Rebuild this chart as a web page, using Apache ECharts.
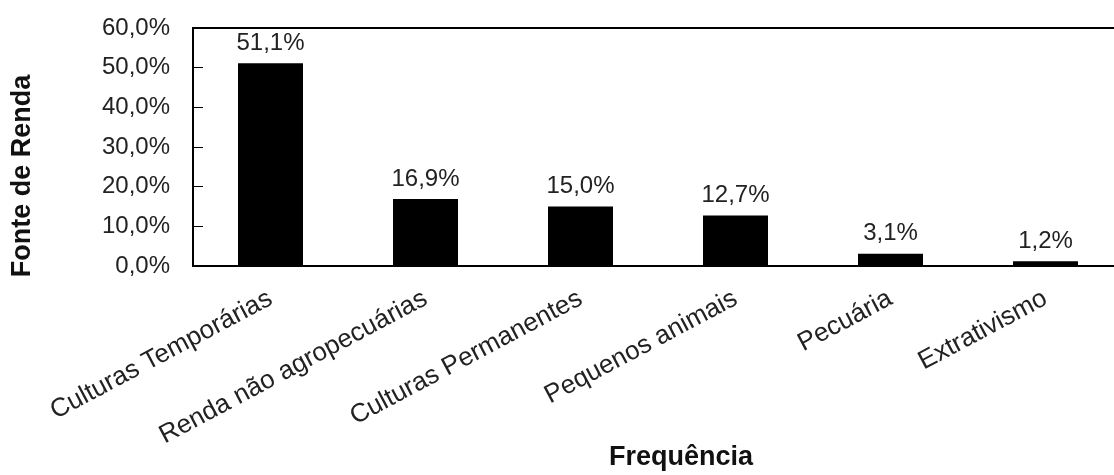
<!DOCTYPE html>
<html>
<head>
<meta charset="utf-8">
<script src="https://cdn.jsdelivr.net/npm/echarts@6/dist/echarts.min.js"></script>
<style>
html,body{margin:0;padding:0;background:#fff;}
#chart{width:1114px;height:475px;}
</style>
</head>
<body>
<div id="chart"></div>
<script>
// fontes de renda e frequencia (%)
var categories = ['Culturas Temporárias', 'Renda não agropecuárias', 'Culturas Permanentes', 'Pequenos animais', 'Pecuária', 'Extrativismo'];
var values = [51.1, 16.9, 15.0, 12.7, 3.1, 1.2];

function fmt(v, d){
    return v.toFixed(d).replace('.', ',') + '%';
}

var chart = echarts.init(document.getElementById('chart'));
var font = 'Liberation Sans, Arial, sans-serif';
var option = {
    animation: false,
    grid: {
        left: 193, top: 28, width: 930, height: 238,
        outerBoundsMode: 'none',
        containLabel: false,
        show: true, borderColor: '#000', borderWidth: 2
    },
    xAxis: {
        type: 'category',
        data: categories,
        axisLine: {lineStyle: {color: '#000', width: 2}},
        axisTick: {show: false},
        axisLabel: {
            rotate: 28, color: '#222', fontSize: 26, fontFamily: font,
            margin: 31, interval: 0
        }
    },
    yAxis: {
        type: 'value',
        min: 0, max: 60, interval: 10,
        splitLine: {show: false},
        axisLine: {show: true, lineStyle: {color: '#000', width: 2}},
        axisTick: {show: true, inside: true, length: 10, lineStyle: {color: '#000', width: 1}},
        axisLabel: {
            color: '#222', fontSize: 24, fontFamily: font, margin: 23,
            formatter: function(v){ return fmt(v, 1); }
        }
    },
    series: [{
        type: 'bar',
        data: values,
        barWidth: 65,
        itemStyle: {color: '#000'},
        label: {
            show: true, position: 'top', distance: 8,
            color: '#222', fontSize: 24, fontFamily: font,
            formatter: function(p){ return fmt(p.value, 1); }
        }
    }],
    graphic: [
        {
            type: 'text', x: 23, y: 176, rotation: Math.PI / 2,
            style: {text: 'Fonte de Renda', font: 'bold 27px ' + font, fill: '#111', textAlign: 'center', textVerticalAlign: 'middle'}
        },
        {
            type: 'text', x: 681, y: 458,
            style: {text: 'Frequência', font: 'bold 27px ' + font, fill: '#111', textAlign: 'center', textVerticalAlign: 'middle'}
        }
    ]
};
chart.setOption(option);
window.addEventListener('resize', function(){ chart.resize(); });
</script>
</body>
</html>
